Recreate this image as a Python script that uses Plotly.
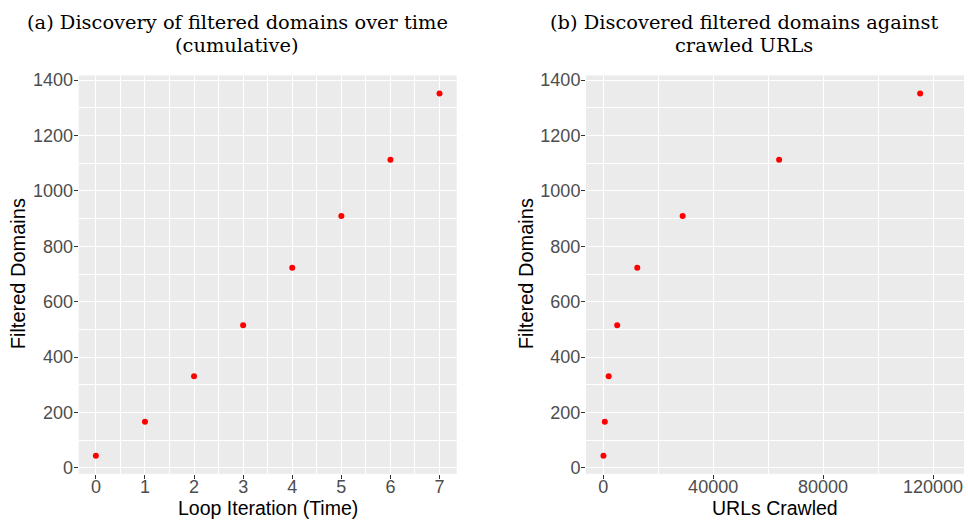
import plotly.graph_objects as go

# Data
iterations = [0, 1, 2, 3, 4, 5, 6, 7]
filtered_domains = [44, 167, 331, 515, 723, 910, 1113, 1352]
urls_crawled = [100, 600, 2000, 5100, 12400, 28900, 64000, 115300]

title_a = ["(a) Discovery of filtered domains over time", "(cumulative)"]
title_b = ["(b) Discovered filtered domains against", "crawled URLs"]
x_title_a = "Loop Iteration (Time)"
x_title_b = "URLs Crawled"
y_title = "Filtered Domains"

W, H = 968, 522
PANEL_BG = "#EBEBEB"
TICK_COL = "#4D4D4D"
SANS = "Liberation Sans, Arial"
SERIF = "DejaVu Serif, serif"

fig = go.Figure()
fig.add_trace(go.Scatter(x=iterations, y=filtered_domains, mode="markers",
                         marker=dict(color="#FF0000", size=6), xaxis="x", yaxis="y",
                         showlegend=False, hoverinfo="x+y"))
fig.add_trace(go.Scatter(x=urls_crawled, y=filtered_domains, mode="markers",
                         marker=dict(color="#FF0000", size=6), xaxis="x2", yaxis="y2",
                         showlegend=False, hoverinfo="x+y"))

def ax_common(**kw):
    d = dict(showgrid=True, gridcolor="white", gridwidth=1.4, zeroline=False,
             ticks="outside", ticklen=4, tickcolor="#333333", tickwidth=1,
             tickfont=dict(family=SANS, size=18, color=TICK_COL),
             showline=False)
    d.update(kw)
    return d

minor_style = dict(showgrid=True, gridcolor="white", gridwidth=0.7, ticklen=0)
ydom = [1 - 477 / H, 1 - 71.7 / H]
yrange = [-21, 1417]

fig.update_layout(
    width=W, height=H,
    margin=dict(l=0, r=0, t=0, b=0),
    paper_bgcolor="white",
    plot_bgcolor=PANEL_BG,
    xaxis=ax_common(domain=[78.7 / W, 456.7 / W], range=[-0.35, 7.35],
                    tickmode="array", tickvals=iterations, ticklabelstandoff=-7,
                    minor=dict(dtick=0.5, tick0=0, **minor_style), anchor="y"),
    yaxis=ax_common(domain=ydom, range=yrange, tickmode="linear", tick0=0, dtick=200,
                    ticklabelstandoff=-3,
                    minor=dict(dtick=100, tick0=0, **minor_style), anchor="x"),
    xaxis2=ax_common(domain=[586 / W, 964 / W], range=[-6250, 131250],
                     tickmode="array", tickvals=[0, 40000, 80000, 120000],
                     ticktext=["0", "40000", "80000", "120000"], ticklabelstandoff=-7,
                     minor=dict(dtick=20000, tick0=0, **minor_style), anchor="y2"),
    yaxis2=ax_common(domain=ydom, range=yrange, tickmode="linear", tick0=0, dtick=200,
                     ticklabelstandoff=-3,
                     minor=dict(dtick=100, tick0=0, **minor_style), anchor="x2"),
)

annotations = []
# panel titles (two lines each)
for cx, lines in [(237, title_a), (744, title_b)]:
    for yc, txt in zip([18, 41.5], lines):
        annotations.append(dict(text=txt, x=cx / W, y=1 - yc / H, xref="paper", yref="paper",
                                xanchor="center", yanchor="middle", showarrow=False,
                                borderpad=0,
                                font=dict(family=SERIF, size=19.4, color="black")))
# axis titles
for cx, txt in [(267.7, x_title_a), (775, x_title_b)]:
    annotations.append(dict(text=txt, x=cx / W, y=1 - 511.5 / H, xref="paper", yref="paper",
                            xanchor="center", yanchor="middle", showarrow=False,
                            borderpad=0,
                            font=dict(family=SANS, size=19.5, color="black")))
for cx in [18, 526]:
    annotations.append(dict(text=y_title, x=cx / W, y=1 - 274 / H, xref="paper", yref="paper",
                            xanchor="center", yanchor="middle", showarrow=False, textangle=-90,
                            borderpad=0,
                            font=dict(family=SANS, size=20, color="black")))
fig.update_layout(annotations=annotations)

fig.write_html("out.html")
